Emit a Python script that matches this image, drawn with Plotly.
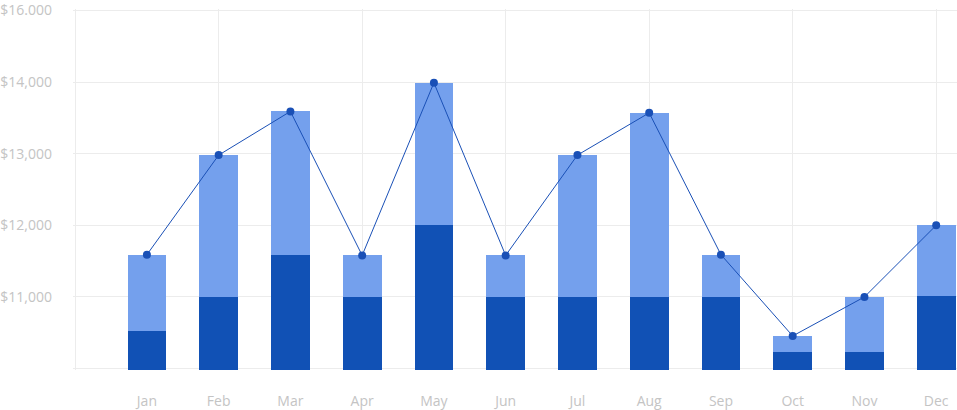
import plotly.graph_objects as go

months = ["Jan", "Feb", "Mar", "Apr", "May", "Jun", "Jul", "Aug", "Sep", "Oct", "Nov", "Dec"]
base_values = [10520, 11000, 11580, 11000, 12000, 11000, 11000, 11000, 11000, 10230, 10230, 11010]
totals = [11590, 12980, 13590, 11580, 13990, 11580, 12980, 13570, 11590, 10455, 11000, 12000]
extra_values = [t - b for t, b in zip(totals, base_values)]

y_tickvals = [10000, 11000, 12000, 13000, 14000, 15000]
y_ticktext = ["", "$11,000", "$12,000", "$13,000", "$14,000", "$16.000"]

idx = list(range(len(months)))

DARK = "#1151b5"
LIGHT = "#74a0ed"
LINE = "#1a50b6"
GRID = "#ececec"
TXT = "#c4c4c4"
FONT = "Open Sans"

fig = go.Figure()
fig.add_trace(go.Bar(x=idx, y=base_values, marker=dict(color=DARK, line=dict(width=0)),
                     width=0.54, hoverinfo="skip", showlegend=False))
fig.add_trace(go.Bar(x=idx, y=extra_values, marker=dict(color=LIGHT, line=dict(width=0)),
                     width=0.54, hoverinfo="skip", showlegend=False))
fig.add_trace(go.Scatter(x=idx, y=totals, mode="lines+markers", xaxis="x2", yaxis="y",
                         line=dict(color=LINE, width=1),
                         marker=dict(color=LINE, size=8),
                         showlegend=False))

xr = [-1.03, 11.29]
fig.update_layout(
    width=957, height=410,
    margin=dict(l=73, r=0, t=9, b=37),
    paper_bgcolor="white", plot_bgcolor="white",
    barmode="stack", bargap=0,
    font=dict(family=FONT, size=14, color=TXT),
    xaxis=dict(range=xr, tickvals=[-1, 1, 3, 5, 7, 9, 11], showticklabels=False,
               showgrid=True, gridcolor=GRID, gridwidth=1, zeroline=False,
               showline=False, ticks=""),
    xaxis2=dict(range=xr, overlaying="x", anchor="y", side="bottom", matches="x",
                tickvals=idx, ticktext=months, showgrid=False, zeroline=False,
                showline=False, ticks="", ticklabelstandoff=21,
                tickfont=dict(family=FONT, size=14, color=TXT)),
    yaxis=dict(range=[9980, 15020], tickvals=y_tickvals, ticktext=y_ticktext,
               showgrid=True, gridcolor=GRID, gridwidth=1, zeroline=False,
               showline=False, ticks="", ticklabelstandoff=20,
               tickfont=dict(family=FONT, size=14, color=TXT)),
)

fig.write_html("out.html")
